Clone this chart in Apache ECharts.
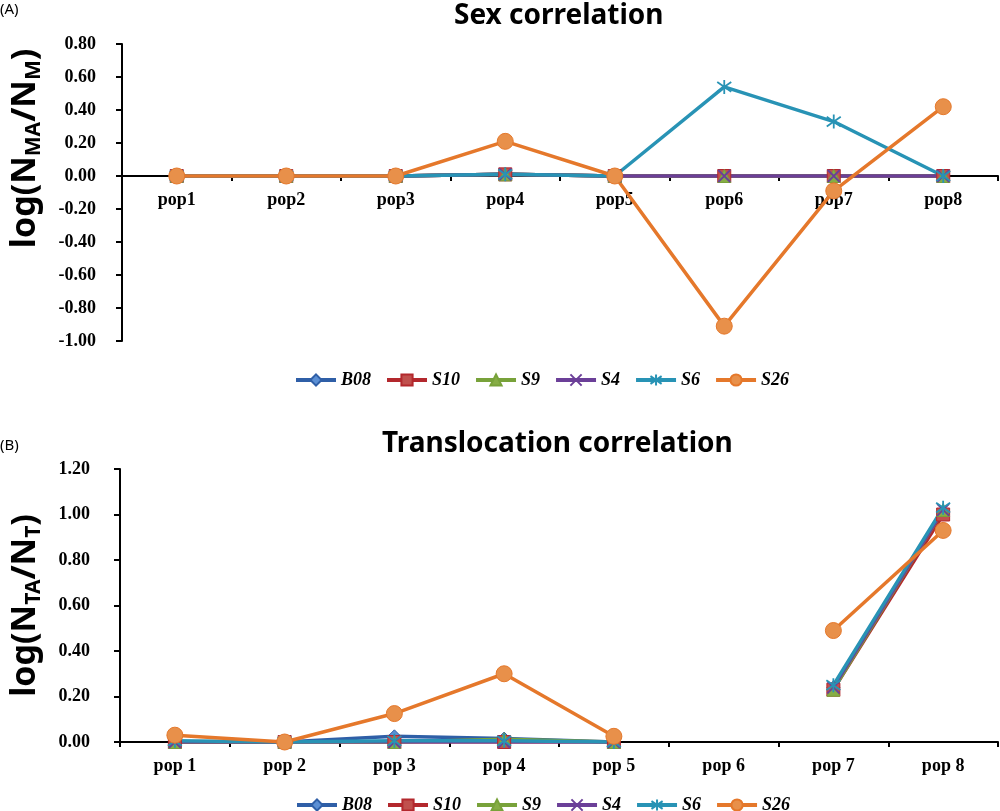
<!DOCTYPE html>
<html>
<head>
<meta charset="utf-8">
<title>Sex and translocation correlation</title>
<script src="https://cdn.jsdelivr.net/npm/echarts@6/dist/echarts.min.js"></script>
<style>
  html, body { margin: 0; padding: 0; background: #fff; }
  #main { width: 1000px; height: 811px; }
</style>
</head>
<body>
<div id="main"></div>
<script>
// categories
const popsA = ['pop1', 'pop2', 'pop3', 'pop4', 'pop5', 'pop6', 'pop7', 'pop8'];
const popsB = ['pop 1', 'pop 2', 'pop 3', 'pop 4', 'pop 5', 'pop 6', 'pop 7', 'pop 8'];
const names = ['B08', 'S10', 'S9', 'S4', 'S6', 'S26'];

// (A) sex correlation, log(NMA/NM)
const sexB08 = [0, 0, 0, 0.01, 0, 0, 0, 0];
const sexS10 = [0, 0, 0, 0.01, 0, 0, 0, 0];
const sexS9  = [0, 0, 0, 0.01, 0, 0, 0, 0];
const sexS4  = [0, 0, 0, 0.01, 0, 0, 0, 0];
const sexS6  = [0, 0, 0, 0.01, 0, 0.54, 0.33, 0];
const sexS26 = [0, 0, 0, 0.21, 0, -0.91, -0.09, 0.42];

// (B) translocation correlation, log(NTA/NT); pop 6 has no value
const trB08 = [0, 0, 0.025, 0.015, 0, null, 0.24, 1.01];
const trS10 = [0, 0, 0, 0, 0, null, 0.23, 1.00];
const trS9  = [0, 0, 0, 0.012, 0, null, 0.23, 1.02];
const trS4  = [0, 0, 0, 0, 0, null, 0.24, 1.02];
const trS6  = [0.005, 0, 0.005, 0.005, 0, null, 0.25, 1.03];
const trS26 = [0.03, 0, 0.125, 0.30, 0.025, null, 0.49, 0.93];

const sexData = [sexB08, sexS10, sexS9, sexS4, sexS6, sexS26];
const trData = [trB08, trS10, trS9, trS4, trS6, trS26];

// looks per series
const lineColors = ['#2f5fa7', '#b3282d', '#78a23a', '#6b3f98', '#2893b5', '#e5782b'];
const fillColors = ['#5b8fd4', '#c0504d', '#86ad45', '#6b3f98', '#2893b5', '#e8904a'];
const crossPath = 'path://M0,0L10,10M10,0L0,10';
const starPath = 'path://M5,0L5,10M0,1.5L10,8.5M10,1.5L0,8.5';
const symbols = ['diamond', 'rect', 'triangle', crossPath, starPath, 'circle'];
const symbolSizes = [13, 13, 13, 12, 14, 16];

const serif = '"Liberation Serif", "Times New Roman", serif';
const sans = '"Noto Sans", "Open Sans", sans-serif';

function makeSeries(data, idx) {
    return data.map((d, i) => ({
        name: names[i],
        type: 'line',
        xAxisIndex: idx,
        yAxisIndex: idx,
        data: d,
        symbol: symbols[i],
        symbolSize: symbolSizes[i],
        showSymbol: true,
        connectNulls: false,
        lineStyle: { color: lineColors[i], width: 3.5 },
        itemStyle: {
            color: (i == 3 || i == 4) ? lineColors[i] : fillColors[i],
            borderColor: lineColors[i],
            borderWidth: (i == 3 || i == 4) ? 1.8 : 1
        },
        emphasis: { disabled: true }
    }));
}

function yName(top, bottom) {
    return '{a|log(N}{s|' + top + '}{a|/N}{s|' + bottom + '}{a|)}';
}

const nameRich = {
    a: { fontFamily: sans, fontWeight: 'bold', fontSize: 34, color: '#000', lineHeight: 40 },
    s: { fontFamily: sans, fontWeight: 'bold', fontSize: 21, color: '#000', lineHeight: 30, verticalAlign: 'bottom' }
};

const legendBase = {
    data: names,
    itemWidth: 40,
    itemHeight: 14,
    itemGap: 14,
    lineStyle: { width: 4 },
    textStyle: { fontFamily: serif, fontStyle: 'italic', fontWeight: 'bold', fontSize: 18, color: '#000' }
};

const yLabel = { fontFamily: serif, fontWeight: 'bold', fontSize: 18, color: '#000', formatter: (v) => v.toFixed(2) };

let chart = echarts.init(document.getElementById('main'));
chart.setOption({
    animation: false,
    backgroundColor: '#fff',
    title: [
        { text: 'Sex correlation', left: 449, top: -3, textStyle: { fontFamily: sans, fontWeight: 'bold', fontSize: 28, color: '#000' } },
        { text: 'Translocation correlation', left: 377, top: 425, textStyle: { fontFamily: sans, fontWeight: 'bold', fontSize: 28, color: '#000' } }
    ],
    graphic: [
        { type: 'text', left: 0, top: 2, style: { text: '(A)', fontFamily: sans, fontSize: 15, fill: '#000' } },
        { type: 'text', left: 0, top: 438, style: { text: '(B)', fontFamily: sans, fontSize: 15, fill: '#000' } }
    ],
    legend: [
        Object.assign({ left: 289, top: 366 }, legendBase),
        Object.assign({ left: 290, top: 791 }, legendBase)
    ],
    grid: [
        { left: 116, right: 2, top: 44, height: 297 },
        { left: 110, right: 2, top: 469, height: 273 }
    ],
    xAxis: [
        {
            type: 'category',
            gridIndex: 0,
            data: popsA,
            boundaryGap: true,
            // drawn on the zero line: 0.8 of 1.8 down the 297px grid
            offset: -165,
            axisLine: { show: true, onZero: false, lineStyle: { color: '#000', width: 2 } },
            axisTick: { show: true, length: 5, lineStyle: { color: '#000', width: 2 } },
            axisLabel: { margin: 15, fontFamily: serif, fontWeight: 'bold', fontSize: 18, color: '#000' },
            splitLine: { show: false }
        },
        {
            type: 'category',
            gridIndex: 1,
            data: popsB,
            boundaryGap: true,
            axisLine: { show: true, onZero: false, lineStyle: { color: '#000', width: 2 } },
            axisTick: { show: true, length: 5, lineStyle: { color: '#000', width: 2 } },
            axisLabel: { margin: 15, fontFamily: serif, fontWeight: 'bold', fontSize: 18, color: '#000' },
            splitLine: { show: false }
        }
    ],
    yAxis: [
        {
            type: 'value',
            gridIndex: 0,
            min: -1,
            max: 0.8,
            interval: 0.2,
            name: yName('MA', 'M'),
            nameLocation: 'middle',
            nameGap: 77,
            nameTextStyle: { rich: nameRich, padding: [0, 0, 0, 88] },
            axisLine: { show: true, lineStyle: { color: '#000', width: 2 } },
            axisTick: { show: true, length: 6, lineStyle: { color: '#000', width: 2 } },
            axisLabel: Object.assign({ margin: 26 }, yLabel),
            splitLine: { show: false }
        },
        {
            type: 'value',
            gridIndex: 1,
            min: 0,
            max: 1.2,
            interval: 0.2,
            name: yName('TA', 'T'),
            nameLocation: 'middle',
            nameGap: 75,
            nameTextStyle: { rich: nameRich },
            axisLine: { show: true, lineStyle: { color: '#000', width: 2 } },
            axisTick: { show: true, length: 6, lineStyle: { color: '#000', width: 2 } },
            axisLabel: Object.assign({ margin: 30 }, yLabel),
            splitLine: { show: false }
        }
    ],
    series: makeSeries(sexData, 0).concat(makeSeries(trData, 1))
});
</script>
</body>
</html>
